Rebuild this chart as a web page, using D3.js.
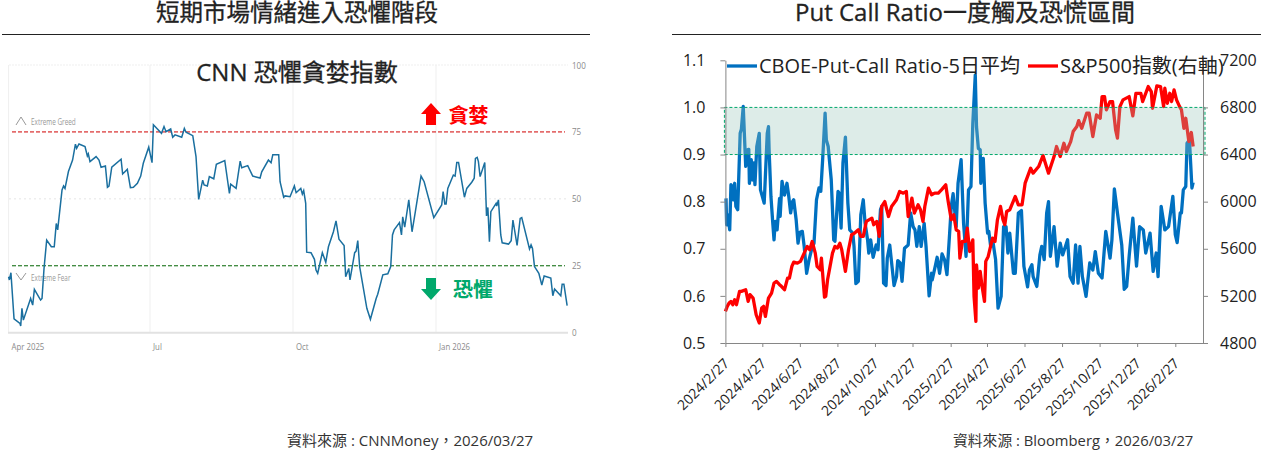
<!DOCTYPE html>
<html>
<head>
<meta charset="utf-8">
<script src="https://cdn.jsdelivr.net/npm/d3@7"></script>
<style>
html, body { margin: 0; padding: 0; background: #fff; }
svg { display: block; }
text { font-family: "Open Sans", "Noto Sans CJK TC", sans-serif; }
</style>
</head>
<body>
<script>
// ---- left: CNN fear & greed, x = days since 2025/4/1
var fearDays = [0,0.5,1.5,3.5,7.3,7.8,8.6,9.5,14.2,15.5,16.6,20.6,21.5,22.8,24.5,27.5,29.4,30.7,31.6,34.4,35.4,36.3,38.5,41.2,43,43.8,45.3,49.2,50.7,51.3,52.4,56.3,58.2,59.5,62.3,63.6,64.6,66.4,72.4,73.4,76.4,78.4,80.3,82.9,85,86.7,90.2,92.3,93.2,98.4,100,101.3,104.3,105.6,107.1,111.4,113.1,114.2,118.5,120.6,122.3,124.9,125.8,127.9,129.2,132,133.7,139.1,142.1,142.9,146.4,149,150,153.9,157.1,161.8,162.9,167.2,168.9,170,173.8,174.7,177,177.9,181.1,183.9,185,188,189,189.9,191.2,191.8,194.6,196.8,197.8,198.9,201.9,204.1,205.8,209,210.7,212.6,215.9,216.9,218.9,219.7,222.7,223.6,224.7,225.9,230.5,232.8,236.5,237.5,240.8,244,245.9,247,248.1,251.5,252.8,253.6,254.9,257.5,259.6,261.4,265.4,267.4,273.6,278.7,279.6,280.7,281.5,282.6,286.2,287.3,288.4,289.5,293.3,294.8,298,299.6,300.4,301.5,302.3,303.4,306.4,307.5,308.4,309.4,310.3,313.7,314.1,315.2,316.7,317.6,321.7,323.4,324.5,327.2,329.2,330.2,335.2,336.2,337.1,338.4,341.2,343.1,344.6,348.9,350.2,351.3,355.3,356.2,357.3,359.4];
var fearValues = [20.9,19.7,22.4,5.2,3.5,2.5,9.1,4.7,12.8,10.3,16.2,12.2,12.8,24,34.6,32.1,32.1,40.8,38.4,53.3,54.8,53.9,60.2,64.5,70.4,68.9,70.5,69.5,66,66.8,63.9,65.8,64.5,61.8,62.3,54.3,54.8,61.8,64.8,59.3,61,54.2,54.3,55.8,58.5,63.3,69.3,63.5,77.7,74.5,77,75.1,76.1,73,73.9,73,76.3,74.9,73.6,65.8,49.8,57,55.2,54.8,58.3,57.5,62.9,64.3,52,55.5,53.9,64.1,61.6,62.4,58.5,57.8,60.1,64.5,63.5,66.5,66.5,56.4,50.6,51.1,50.8,54.8,52.3,53.9,51.8,53.1,48.3,30.1,29.9,27.4,23.4,22.2,29.9,26.3,32.1,37.7,41.8,34.9,32.6,20.9,24,19.7,29.9,30.5,34.4,24.7,9.1,5,12.8,14.4,21.6,22,24.7,36.5,38.4,41.1,36.5,43.3,39.4,49.6,37.7,44,58.5,56.4,43,47.7,52.7,48.1,48.1,53.9,58.9,58.5,63.6,63.6,50.6,53.9,56.2,57.7,65.1,65.5,63.9,58.3,63.6,43.6,46.8,34,45.2,48.3,47.3,49.6,36.5,33.6,33.1,34.4,42.1,32.6,42.7,43,31.3,32.8,31.5,24.7,22.2,17.8,21.2,20.4,13.8,16.3,13.8,18.1,18.1,10.1];
var fearTicks = [0, 25, 50, 75, 100];
var fearMonths = ["2025/4/1", "2025/7/1", "2025/10/1", "2026/1/1"];
var fearMonthLabels = ["Apr 2025", "Jul", "Oct", "Jan 2026"];

// ---- right: put/call ratio and S&P500, x = days since 2024/2/27
var pcrDays = [1,2,4,7,9,11,13,15,17,20,24,26,29,31,33,36,38,39,42,44,46,48,51,55,57,63,64,68,70,71,74,77,79,81,84,88,89,92,96,100,103,106,109,111,115,118,121,125,128,132,136,140,144,148,152,155,158,162,164,167,172,174,176,178,183,185,188,191,195,199,202,207,209,212,216,220,224,227,231,233,236,240,245,248,252,254,257,261,263,267,271,274,278,280,284,287,291,297,301,305,308,311,315,318,323,326,331,335,336,341,344,348,352,356,360,364,367,370,375,378,383,387,391,395,399,402,406,408,411,414,415,419,422,426,428,431,435,439,443,448,452,456,459,462,468,471,476,481,485,491,494,498,500,506,511,514,518,522,525,528,534,539,544,548,556,560,565,569,573,576,580,586,592,597,601,606,612,618,625,628,632,637,644,648,652,656,662,668,673,679,683,690,695,700,703,708,714,720,727,731,734,739,741,744,748,750,754,758,760];
var pcrValues = [.807,.751,.772,.74,.836,.832,.804,.839,.79,.783,.945,.954,1.002,.938,.875,.91,.911,.839,.889,.846,.882,.836,.917,.945,.825,.797,.825,.945,.959,.91,.811,.754,.719,.758,.74,.807,.769,.843,.814,.839,.811,.776,.8,.804,.761,.712,.735,.737,.705,.648,.677,.698,.712,.804,.829,.822,.889,.988,.931,.917,.846,.783,.719,.716,.822,.818,.744,.882,.937,.797,.74,.733,.705,.626,.631,.772,.804,.754,.719,.691,.719,.682,.708,.698,.783,.79,.627,.622,.68,.708,.659,.622,.641,.675,.67,.631,.701,.708,.776,.747,.74,.705,.747,.705,.754,.705,.6,.648,.634,.663,.682,.648,.689,.677,.645,.726,.79,.817,.747,.839,.889,.754,.684,.825,.832,.966,1.069,.959,.913,.91,.839,.892,.797,.733,.737,.705,.712,.677,.574,.599,.747,.747,.691,.733,.648,.648,.776,.781,.663,.619,.655,.666,.641,.62,.687,.705,.677,.776,.8,.684,.747,.663,.712,.687,.719,.641,.627,.708,.627,.705,.641,.599,.67,.655,.694,.648,.638,.737,.68,.719,.827,.776,.708,.614,.62,.684,.765,.663,.747,.74,.691,.733,.652,.691,.641,.79,.74,.747,.811,.73,.713,.776,.776,.825,.832,.924,.931,.829,.841];
var spxDays = [0,3,6,9,12,15,18,23,26,33,37,40,45,50,55,59,62,65,70,75,79,83,88,91,96,101,104,108,111,117,122,128,133,137,141,146,149,154,156,161,163,166,170,174,178,182,186,189,195,200,205,210,216,220,224,229,238,241,246,250,254,259,265,270,278,283,289,294,297,303,307,313,317,321,324,330,335,340,346,351,358,362,367,371,375,379,381,385,390,393,397,402,404,407,408,411,414,417,421,423,427,434,438,442,447,451,454,457,462,471,476,482,487,496,500,509,516,525,534,538,544,550,554,561,565,571,574,579,587,591,597,603,609,612,616,619,625,629,634,637,641,646,656,662,667,675,678,687,692,694,701,707,712,714,718,722,725,729,733,738,741,745,748,753,757,760];
var spxValues = [5069,5111,5139,5153,5125,5167,5125,5238,5238,5252,5153,5210,5182,5040,4970,5097,5111,5026,5182,5224,5309,5323,5295,5281,5252,5351,5351,5450,5487,5478,5493,5563,5620,5592,5662,5563,5450,5422,5521,5190,5196,5337,5450,5563,5620,5606,5648,5592,5408,5592,5719,5733,5761,5705,5705,5832,5860,5804,5832,5705,5959,6001,5874,5959,6016,6086,6072,6086,5874,6030,5903,5973,5931,5832,5959,6115,6058,6072,6072,6100,6143,6002,5846,5888,5761,5747,5521,5662,5662,5775,5577,5676,5196,4984,5464,5266,5408,5281,5153,5493,5535,5690,5662,5846,5959,5846,5804,5917,5931,6044,5973,5973,6157,6284,6242,6298,6392,6242,6383,6468,6383,6496,6426,6510,6595,6638,6688,6623,6751,6751,6553,6736,6708,6892,6892,6779,6850,6850,6609,6539,6807,6864,6892,6728,6920,6920,6850,6977,6935,6793,6983,6977,6807,6963,6835,6920,6850,6949,6864,6807,6779,6623,6708,6510,6587,6468];
var pcrTicks = [0.5, 0.6, 0.7, 0.8, 0.9, 1.0, 1.1];
var spxTicks = [4800, 5200, 5600, 6000, 6400, 6800, 7200];
var dateTicks = ["2024/2/27","2024/4/27","2024/6/27","2024/8/27","2024/10/27","2024/12/27","2025/2/27","2025/4/27","2025/6/27","2025/8/27","2025/10/27","2025/12/27","2026/2/27"];
var panicBand = [0.9, 1.0];

var width = 1269, height = 452;
var parseDate = d3.timeParse("%Y/%-m/%-d");
var fmtDate = d3.timeFormat("%Y/%-m/%-d");

var svg = d3.select("body").append("svg")
  .attr("width", width)
  .attr("height", height);

// the cnn screenshot uses a condensed font, squeeze ours to match
function squeeze(sel, k) {
  sel.each(function() {
    d3.select(this)
      .attr("textLength", this.getComputedTextLength() * k)
      .attr("lengthAdjust", "spacingAndGlyphs");
  });
}

// page titles and rules
function pageTitle(txt, cx, x1, x2, size) {
  svg.append("text").attr("x", cx).attr("y", 21)
    .attr("text-anchor", "middle")
    .attr("font-size", size).attr("fill", "#222")
    .attr("stroke", "#222").attr("stroke-width", 0.3)
    .text(txt);
  svg.append("line").attr("x1", x1).attr("x2", x2).attr("y1", 34.5).attr("y2", 34.5)
    .attr("stroke", "#222").attr("stroke-width", 1);
}
pageTitle("短期市場情緒進入恐懼階段", 297, 2, 590, 23.5);
pageTitle("Put Call Ratio一度觸及恐慌區間", 965, 672, 1261, 24);

svg.append("text").attr("x", 287).attr("y", 446).attr("font-size", 15).attr("fill", "#333")
  .text("資料來源 : CNNMoney，2026/03/27");
svg.append("text").attr("x", 953).attr("y", 446).attr("font-size", 14.8).attr("fill", "#333")
  .text("資料來源 : Bloomberg，2026/03/27");

//left chart
var fx = d3.scaleTime()
  .domain([parseDate("2025/4/1"), parseDate("2026/1/1")])
  .range([8.6, 436]);
var fy = d3.scaleLinear().domain([0, 100]).range([332.7, 65]);
var fearStart = parseDate("2025/4/1");
var fearDate = d => d3.timeHour.offset(fearStart, d * 24);

var fg = svg.append("g").attr("class", "fear");

// vertical grid
fg.selectAll(".vgrid").data(fearMonths).enter().append("line")
  .attr("x1", d => fx(parseDate(d))).attr("x2", d => fx(parseDate(d)))
  .attr("y1", 65).attr("y2", 332.7)
  .attr("stroke", "#efefef").attr("stroke-width", 1);

var fearAxis = fg.append("g")
  .attr("transform", "translate(568,0)")
  .call(d3.axisRight(fy).tickValues(fearTicks).tickSize(0).tickPadding(4));
fearAxis.select(".domain").remove();
fearAxis.selectAll("text").attr("font-size", 9.5).attr("fill", "#8a8a8a").call(squeeze, 0.85);

// horizontal grid
fg.append("line").attr("x1", 9).attr("x2", 568).attr("y1", fy(100)).attr("y2", fy(100))
  .attr("stroke", "#efefef").attr("stroke-dasharray", "2,1");
fg.append("line").attr("x1", 9).attr("x2", 568).attr("y1", fy(50)).attr("y2", fy(50))
  .attr("stroke", "#e6e6e6").attr("stroke-dasharray", "2,3");
fg.append("line").attr("x1", 8).attr("x2", 568).attr("y1", fy(0)).attr("y2", fy(0))
  .attr("stroke", "#e2e2e2").attr("stroke-width", 2);

fg.selectAll(".mlabel").data(fearMonths).enter().append("text")
  .attr("x", d => fx(parseDate(d)) + 3)
  .attr("y", 350)
  .attr("font-size", 9.5).attr("fill", "#8a8a8a")
  .text((d, i) => fearMonthLabels[i])
  .call(squeeze, 0.82);

// extreme zones
fg.append("text").attr("x", 31).attr("y", 125).attr("font-size", 8.5).attr("fill", "#999").text("Extreme Greed").call(squeeze, 0.75);
fg.append("text").attr("x", 31).attr("y", 281).attr("font-size", 8.5).attr("fill", "#999").text("Extreme Fear").call(squeeze, 0.75);
fg.append("path").attr("d", "M16,125L21,117L26,125").attr("fill", "none").attr("stroke", "#999");
fg.append("path").attr("d", "M16,273L21,280L26,273").attr("fill", "none").attr("stroke", "#999");

fg.append("line").attr("x1", 12).attr("x2", 565).attr("y1", fy(75)).attr("y2", fy(75))
  .attr("stroke", "#d00000").attr("stroke-dasharray", "4,2");
fg.append("line").attr("x1", 12).attr("x2", 565).attr("y1", fy(25)).attr("y2", fy(25))
  .attr("stroke", "#006400").attr("stroke-dasharray", "4,2");

var fearLine = d3.line()
  .x((d, i) => fx(fearDate(fearDays[i])))
  .y(d => fy(d));
fg.append("path").datum(fearValues)
  .attr("d", fearLine)
  .attr("fill", "none")
  .attr("stroke", "#1a6f9f").attr("stroke-width", 1.5);

fg.append("text").attr("x", 297).attr("y", 81)
  .attr("text-anchor", "middle").attr("font-size", 24).attr("fill", "#222")
  .attr("stroke", "#222").attr("stroke-width", 0.3)
  .text("CNN 恐懼貪婪指數");

// arrows + labels
fg.append("path").attr("d", "M421,114L431,103L441,114L436,114L436,125L426,125L426,114Z").attr("fill", "#ff0000");
fg.append("text").attr("x", 448.5).attr("y", 122.5).attr("font-size", 20).attr("font-weight", "bold").attr("fill", "#ff0000").text("貪婪");
fg.append("path").attr("d", "M421,289L431,300L441,289L436,289L436,278L426,278L426,289Z").attr("fill", "#00a86b");
fg.append("text").attr("x", 453).attr("y", 296.5).attr("font-size", 20).attr("font-weight", "bold").attr("fill", "#00a86b").text("恐懼");

//right chart
var chartTop = 60.3, chartBottom = 343, chartLeft = 725.4, chartRight = 1203;
var rx = d3.scaleTime()
  .domain([parseDate("2024/2/27"), parseDate("2026/4/13")])
  .range([chartLeft, chartRight]);
var ry = d3.scaleLinear().domain([0.5, 1.1]).range([chartBottom, chartTop]);
var ry2 = d3.scaleLinear().domain([4800, 7200]).range([chartBottom, chartTop]);
var rStart = parseDate("2024/2/27");
var rDate = d => d3.timeDay.offset(rStart, d);

var rg = svg.append("g").attr("class", "pcr");

var pcrLine = d3.line().x((d, i) => rx(rDate(pcrDays[i]))).y(d => ry(d));
var spxLine = d3.line().x((d, i) => rx(rDate(spxDays[i]))).y(d => ry2(d));

rg.append("path").datum(pcrValues).attr("d", pcrLine)
  .attr("fill", "none").attr("stroke", "#0070c0").attr("stroke-width", 3.3).attr("stroke-linejoin", "round");
rg.append("path").datum(spxValues).attr("d", spxLine)
  .attr("fill", "none").attr("stroke", "#ff0000").attr("stroke-width", 3.3).attr("stroke-linejoin", "round");

// panic zone sits on top of the lines
rg.append("rect")
  .attr("x", chartLeft - 1).attr("width", chartRight - chartLeft + 3)
  .attr("y", ry(panicBand[1])).attr("height", ry(panicBand[0]) - ry(panicBand[1]))
  .attr("fill", "rgba(148,197,185,0.32)")
  .attr("stroke", "#00a86b").attr("stroke-width", 1).attr("stroke-dasharray", "3,2");

function styleAxis(g) {
  g.selectAll(".domain, line").attr("stroke", "#868686").attr("stroke-width", 1);
  g.selectAll("text").attr("font-size", 16).attr("fill", "#222");
}
rg.append("g").attr("transform", "translate(" + chartLeft + ",0)")
  .call(d3.axisLeft(ry).tickValues(pcrTicks).tickFormat(d3.format(".1f")).tickSize(5).tickSizeOuter(0).tickPadding(15))
  .call(styleAxis);
rg.append("g").attr("transform", "translate(" + chartRight + ",0)")
  .call(d3.axisRight(ry2).tickValues(spxTicks).tickFormat(d3.format("d")).tickSize(5).tickSizeOuter(0).tickPadding(12))
  .call(styleAxis);
rg.append("g").attr("transform", "translate(0," + chartBottom + ")")
  .call(d3.axisBottom(rx).tickValues(dateTicks.map(parseDate)).tickFormat(fmtDate).tickSize(4).tickSizeOuter(0))
  .call(styleAxis)
  .selectAll("text")
  .attr("font-size", 14)
  .attr("text-anchor", "end")
  .attr("dx", "-12px").attr("dy", "11px")
  .attr("transform", "rotate(-45)");

// legend
var legendY = 66;
rg.append("line").attr("x1", 727).attr("x2", 757).attr("y1", legendY).attr("y2", legendY)
  .attr("stroke", "#0070c0").attr("stroke-width", 3.3);
rg.append("text").attr("x", 759).attr("y", legendY + 6.5).attr("font-size", 20).attr("fill", "#222")
  .text("CBOE-Put-Call Ratio-5日平均");
rg.append("line").attr("x1", 1028).attr("x2", 1058).attr("y1", legendY).attr("y2", legendY)
  .attr("stroke", "#ff0000").attr("stroke-width", 3.3);
rg.append("text").attr("x", 1060).attr("y", legendY + 6.5).attr("font-size", 20).attr("fill", "#222")
  .text("S&P500指數(右軸)");
</script>
</body>
</html>
